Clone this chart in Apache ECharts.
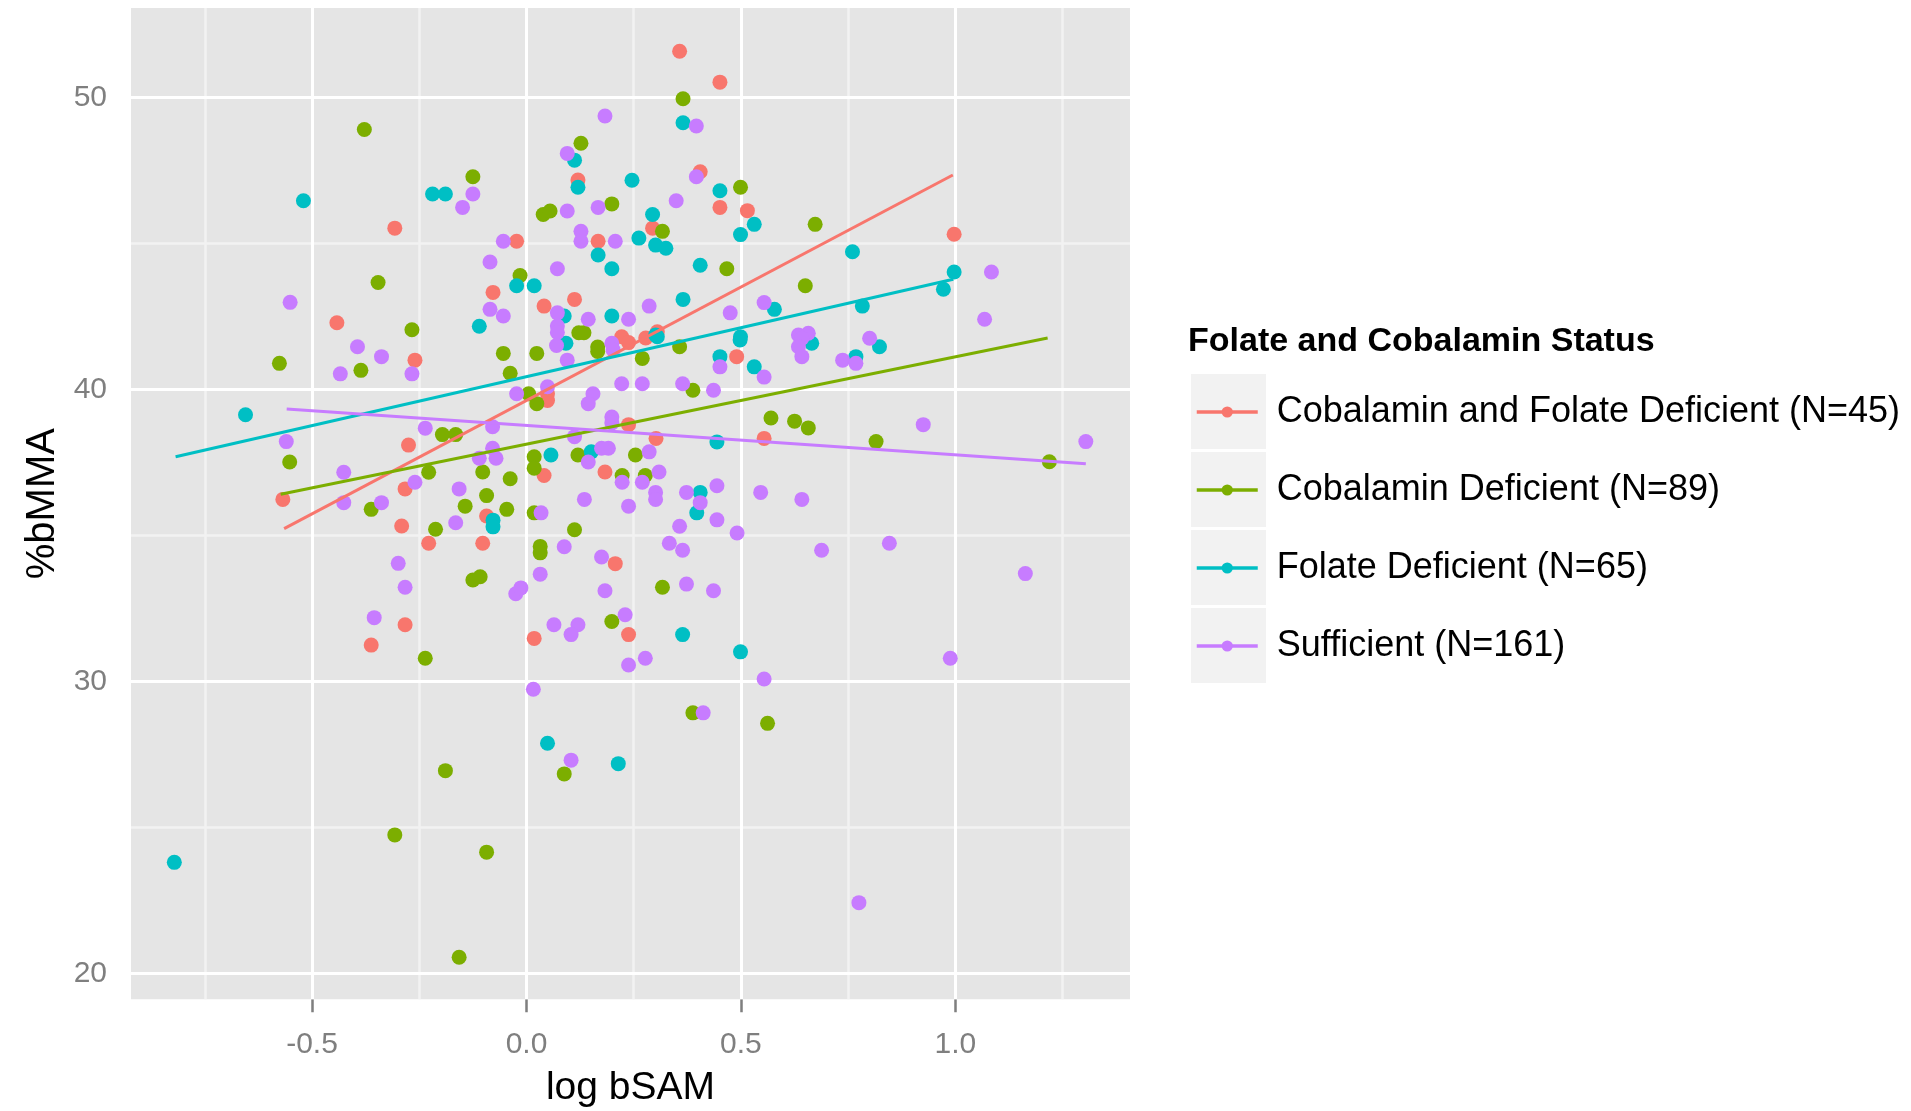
<!DOCTYPE html>
<html><head><meta charset="utf-8">
<script src="https://cdn.jsdelivr.net/npm/echarts@6/dist/echarts.min.js"></script>
<style>html,body{margin:0;padding:0;background:#fff}#c{width:1911px;height:1111px}</style>
</head><body><div id="c"></div>
<script>
const seriesNames = ['Cobalamin and Folate Deficient (N=45)','Cobalamin Deficient (N=89)','Folate Deficient (N=65)','Sufficient (N=161)'];
const colors = ['#F8766D','#7CAE00','#00BFC4','#C77CFF'];

const redPoints = [[-0.307,45.52],[-0.442,42.28],[0.357,51.58],[0.451,50.52],[0.120,47.17],[0.405,47.45],[0.451,46.23],[0.515,46.12],[0.294,45.52],[0.167,45.07],[-0.023,45.07],[-0.078,43.32],[0.041,42.85],[0.112,43.08],[0.222,41.80],[0.278,41.76],[0.997,45.31],[0.305,41.97],[0.490,41.12],[-0.260,41.00],[-0.275,38.09],[-0.283,36.59],[-0.568,36.23],[-0.291,35.32],[-0.228,34.73],[-0.283,31.94],[-0.362,31.24],[0.049,39.85],[0.049,39.62],[0.238,38.79],[0.302,38.32],[0.554,38.32],[0.041,37.05],[0.183,37.17],[-0.093,35.66],[-0.102,34.73],[0.207,34.03],[0.018,31.47],[0.238,31.60],[0.238,41.60]];

const greenPoints = [[-0.378,48.90],[-0.125,47.28],[-0.346,43.66],[-0.267,42.04],[0.365,49.95],[0.127,48.43],[0.499,46.92],[0.039,45.99],[0.055,46.11],[0.199,46.35],[0.317,45.41],[0.467,44.13],[-0.015,43.90],[0.122,41.94],[0.134,41.94],[0.650,43.55],[0.673,45.65],[0.625,38.91],[0.657,38.68],[0.815,38.21],[1.219,37.52],[-0.236,30.79],[-0.189,26.94],[-0.307,24.74],[-0.157,20.55],[0.388,28.92],[0.562,28.56],[0.088,26.83],[-0.093,24.15],[-0.576,40.89],[-0.386,40.65],[-0.196,38.45],[-0.165,38.45],[-0.552,37.51],[-0.228,37.16],[-0.362,35.89],[-0.143,36.00],[-0.212,35.21],[-0.125,33.47],[-0.108,33.58],[0.166,41.45],[0.166,41.30],[0.357,41.46],[-0.054,41.23],[0.024,41.23],[0.270,41.06],[-0.038,40.55],[0.388,39.97],[0.005,39.85],[0.024,39.51],[0.570,39.02],[0.018,37.69],[0.120,37.75],[0.254,37.75],[0.018,37.30],[-0.102,37.17],[-0.038,36.94],[0.223,37.05],[0.277,37.05],[-0.093,36.36],[-0.046,35.89],[0.018,35.77],[0.112,35.19],[0.032,34.62],[0.032,34.40],[0.317,33.22],[0.199,32.05]];

const cyanPoints = [[-0.520,46.46],[-0.219,46.69],[-0.189,46.69],[0.365,49.13],[0.112,47.85],[0.120,46.92],[0.246,47.16],[0.451,46.80],[0.531,45.65],[0.499,45.30],[0.294,45.99],[0.262,45.18],[0.301,44.94],[0.325,44.83],[0.167,44.60],[0.199,44.13],[0.405,44.25],[-0.023,43.55],[0.018,43.55],[-0.110,42.16],[0.365,43.08],[0.578,42.74],[0.088,42.51],[0.199,42.51],[0.301,41.86],[0.499,41.80],[0.760,44.71],[0.997,44.02],[0.972,43.43],[0.783,42.85],[0.665,41.58],[0.823,41.46],[0.768,41.12],[-0.821,23.80],[0.049,27.88],[0.214,27.18],[-0.655,39.13],[0.092,41.58],[0.305,41.80],[0.498,41.69],[0.451,41.12],[0.531,40.77],[0.444,38.20],[0.057,37.75],[0.151,37.86],[0.405,36.47],[0.397,35.77],[-0.078,35.52],[-0.078,35.29],[0.364,31.60],[0.499,31.01]];

const purplePoints = [[-0.125,46.69],[-0.149,46.23],[-0.551,42.98],[0.183,49.36],[0.396,49.02],[0.095,48.08],[0.396,47.28],[0.349,46.46],[0.095,46.11],[0.167,46.23],[0.127,45.41],[0.127,45.07],[0.207,45.07],[-0.054,45.07],[-0.085,44.36],[0.072,44.13],[-0.085,42.74],[-0.054,42.51],[0.286,42.85],[0.554,42.97],[0.475,42.62],[0.072,42.62],[0.144,42.40],[0.238,42.40],[0.072,42.17],[0.072,41.95],[0.634,41.86],[1.084,44.02],[1.068,42.40],[0.657,41.92],[0.642,41.75],[0.800,41.75],[0.634,41.46],[0.642,41.12],[0.737,41.00],[0.768,40.89],[0.925,38.79],[1.304,38.21],[0.642,36.23],[0.688,34.49],[0.846,34.73],[1.163,33.69],[0.988,30.79],[0.775,22.42],[0.238,30.56],[0.277,30.79],[0.554,30.08],[0.016,29.73],[0.412,28.92],[0.104,27.30],[-0.394,41.46],[-0.338,41.12],[-0.434,40.53],[-0.267,40.53],[-0.560,38.21],[-0.236,38.67],[-0.426,37.16],[-0.260,36.82],[-0.157,36.59],[-0.426,36.12],[-0.338,36.12],[-0.165,35.43],[-0.299,34.04],[-0.283,33.22],[-0.355,32.18],[0.199,41.58],[0.095,41.00],[0.451,40.77],[0.554,40.42],[0.222,40.19],[0.270,40.19],[0.364,40.19],[0.436,39.97],[-0.023,39.85],[0.155,39.85],[0.144,39.51],[0.199,39.05],[0.199,38.85],[-0.079,38.72],[0.112,38.38],[-0.079,37.98],[-0.071,37.64],[-0.110,37.64],[0.191,37.98],[0.175,37.98],[0.144,37.51],[0.286,37.86],[0.223,36.82],[0.270,36.82],[0.309,37.17],[0.301,36.47],[0.301,36.23],[0.373,36.47],[0.444,36.70],[0.546,36.47],[0.405,36.12],[0.135,36.23],[0.238,36.00],[0.034,35.77],[0.357,35.31],[0.444,35.53],[0.491,35.08],[0.088,34.61],[0.333,34.73],[0.364,34.49],[0.175,34.26],[0.032,33.67],[-0.025,33.00],[-0.013,33.20],[0.183,33.10],[0.373,33.33],[0.436,33.10],[0.230,32.28],[0.064,31.94],[0.120,31.94],[0.104,31.60],[0.070,41.50],[0.202,41.35],[0.049,40.09]];

const fitRed = [[-0.565,35.23],[0.994,47.34]];
const fitGreen = [[-0.573,36.41],[1.215,41.76]];
const fitCyan = [[-0.818,37.69],[0.995,43.77]];
const fitPurple = [[-0.559,39.33],[1.304,37.45]];

const xTicks = [-0.5, 0.0, 0.5, 1.0];
const yTicks = [20, 30, 40, 50];
const xMinorGrid = [-0.75, -0.25, 0.25, 0.75, 1.25];
const yMinorGrid = [25, 35, 45];

const FONT = 'Liberation Sans, Arial, sans-serif';
const pointSets = [redPoints, greenPoints, cyanPoints, purplePoints];
const fitSets = [fitRed, fitGreen, fitCyan, fitPurple];

const gridLines = [].concat(
  xMinorGrid.map(v => ({xAxis: v, lineStyle: {color: '#f2f2f2', width: 2.5, type: 'solid'}})),
  yMinorGrid.map(v => ({yAxis: v, lineStyle: {color: '#f2f2f2', width: 2.5, type: 'solid'}})),
  xTicks.map(v => ({xAxis: v, lineStyle: {color: '#ffffff', width: 3, type: 'solid'}})),
  yTicks.map(v => ({yAxis: v, lineStyle: {color: '#ffffff', width: 3, type: 'solid'}}))
);

const series = [];
series.push({
  type: 'scatter', name: 'gridlines', data: [], silent: true, z: 1,
  markLine: {silent: true, symbol: ['none', 'none'], animation: false, z: 1,
    label: {show: false}, emphasis: {disabled: true}, data: gridLines}
});
fitSets.forEach((d, i) => series.push({
  type: 'line', name: seriesNames[i], data: d, symbol: 'circle', showSymbol: false,
  lineStyle: {width: 3, color: colors[i]}, itemStyle: {color: colors[i]},
  z: 4, silent: true, animation: false
}));
pointSets.forEach((d, i) => series.push({
  type: 'scatter', name: seriesNames[i], data: d, symbol: 'circle', symbolSize: 15,
  itemStyle: {color: colors[i], opacity: 1}, z: 2, silent: true, animation: false
}));

const chart = echarts.init(document.getElementById('c'), null, {renderer: 'canvas'});
chart.setOption({
  backgroundColor: '#ffffff',
  animation: false,
  grid: {left: 131, top: 8, width: 999, height: 991.3, show: true, backgroundColor: '#e5e5e5', borderWidth: 0,
    outerBoundsMode: 'none', containLabel: false},
  xAxis: {
    type: 'value', min: -0.922, max: 1.407,
    axisLine: {show: false}, splitLine: {show: false},
    axisTick: {show: true, customValues: xTicks, length: 13, lineStyle: {color: '#7f7f7f', width: 2.5}},
    axisLabel: {customValues: xTicks, formatter: v => Number(v).toFixed(1), color: '#7f7f7f', fontSize: 30, fontFamily: FONT, margin: 30},
    name: 'log bSAM', nameLocation: 'middle', nameGap: 69,
    nameTextStyle: {fontSize: 39, color: '#000', fontFamily: FONT}
  },
  yAxis: {
    type: 'value', min: 19.11, max: 53.06,
    axisLine: {show: false}, splitLine: {show: false},
    axisTick: {show: true, customValues: yTicks, length: 12, lineStyle: {color: '#7f7f7f', width: 2.5}},
    axisLabel: {customValues: yTicks, color: '#7f7f7f', fontSize: 30, fontFamily: FONT, margin: 24},
    name: '%bMMA', nameLocation: 'middle', nameGap: 60, nameRotate: 90,
    nameTextStyle: {fontSize: 40, color: '#000', fontFamily: FONT}
  },
  title: {
    text: 'Folate and Cobalamin Status', left: 1188, top: 325, padding: 0,
    textStyle: {fontSize: 34, fontWeight: 'bold', fontFamily: FONT, color: '#000'}
  },
  legend: {
    orient: 'vertical', left: 1195, top: 392, padding: 0, itemGap: 38,
    itemWidth: 61, itemHeight: 14, selectedMode: false,
    data: seriesNames,
    lineStyle: {width: 3.5},
    textStyle: {fontSize: 36, fontFamily: FONT, color: '#000', lineHeight: 40, padding: [0, 0, 0, 14]}
  },
  graphic: [0, 1, 2, 3].map(i => ({
    type: 'rect', left: 1191, top: 374 + 78 * i, silent: true, z: 0,
    shape: {width: 75, height: 75}, style: {fill: '#f2f2f2'}
  })),
  series: series
});
</script></body></html>
